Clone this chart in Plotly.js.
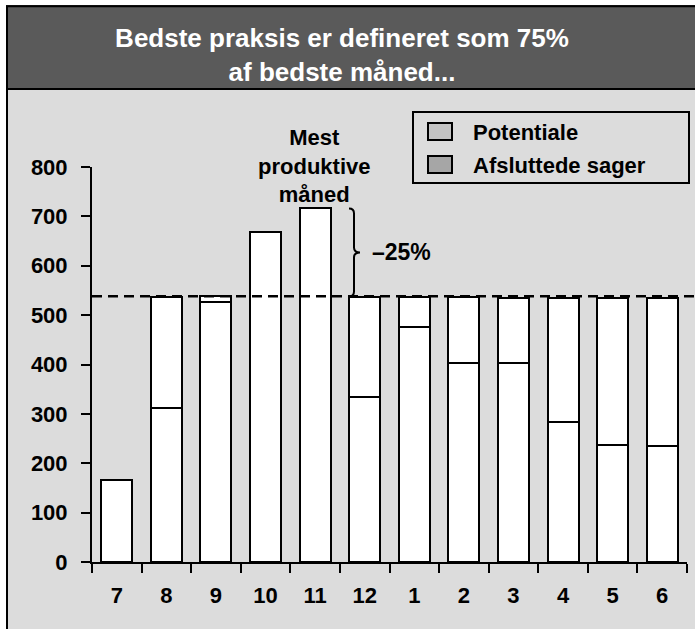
<!DOCTYPE html>
<html>
<head>
<meta charset="utf-8">
<script src="https://cdn.plot.ly/plotly-3.0.1.min.js"></script>
<style>
html,body{margin:0;padding:0;background:#fff;}
#chart{width:695px;height:629px;}
</style>
</head>
<body>
<div id="chart"></div>
<script>
// Data
const months = ["7","8","9","10","11","12","1","2","3","4","5","6"];
const afsluttede = [166, 311, 527, 669, 716, 334, 476, 404, 403, 283, 236, 235];
const potentiale = [null, 226, 11, null, null, 202, 61, 132, 132, 252, 298, 299];
const bestPractice = 538;   // 75% of best month
const bestMonthValue = 716;
const yTicks = [0, 100, 200, 300, 400, 500, 600, 700, 800];

const FONT = "Liberation Sans, Arial, Helvetica, sans-serif";
const BG = "#dcdcdc";
const DARK = "#5a5a5a";

// helpers: pixel -> paper coords (plot area x 92..687, y 167..562.5)
const px = p => (p - 92) / 595;
const py = p => (562.5 - p) / 395.5;

const traces = [
  {
    type: "bar", name: "Afsluttede sager", x: months, y: afsluttede,
    marker: {color: "#ffffff", line: {color: "#000", width: 2}},
    showlegend: false, hoverinfo: "skip"
  },
  {
    type: "bar", name: "Potentiale", x: months, y: potentiale,
    marker: {color: "#ffffff", line: {color: "#000", width: 2}},
    showlegend: false, hoverinfo: "skip"
  }
];

const xs = px(349), xv = px(354), xt = px(360);
const yTop = bestMonthValue, yBot = bestPractice, yMid = (bestMonthValue + bestPractice) / 2;
const a = 10;
const bracePath = `M ${xs},${yTop} Q ${xv},${yTop} ${xv},${yTop - a} L ${xv},${yMid + a} Q ${xv},${yMid} ${xt},${yMid} Q ${xv},${yMid} ${xv},${yMid - a} L ${xv},${yBot + a} Q ${xv},${yBot} ${xs},${yBot}`;

const layout = {
  width: 695, height: 629,
  margin: {l: 92, r: 8, t: 167, b: 66.5},
  paper_bgcolor: "#ffffff",
  plot_bgcolor: "rgba(0,0,0,0)",
  barmode: "stack",
  bargap: 0.375,
  font: {family: FONT, color: "#000"},
  title: {
    text: "Bedste praksis er defineret som 75%<br>af bedste måned...",
    font: {family: FONT, size: 26, color: "#ffffff", weight: "bold"},
    x: 342 / 695, xanchor: "center", xref: "container",
    y: 1 - 47 / 629, yanchor: "middle", yref: "container"
  },
  xaxis: {
    type: "category", showline: true, linecolor: "#000", linewidth: 2,
    ticks: "outside", tickson: "boundaries", ticklen: 9, tickwidth: 2, tickcolor: "#000",
    ticklabelstandoff: 13,
    tickfont: {family: FONT, size: 22, weight: "bold", color: "#000"},
    showgrid: false, zeroline: false, fixedrange: true
  },
  yaxis: {
    range: [0, 800], tickvals: yTicks, ticktext: yTicks.map(String),
    showline: true, linecolor: "#000", linewidth: 2,
    ticks: "outside", ticklen: 9, tickwidth: 2, tickcolor: "#000",
    ticklabelstandoff: 9,
    tickfont: {family: FONT, size: 22, weight: "bold", color: "#000"},
    showgrid: false, zeroline: false, fixedrange: true
  },
  shapes: [
    // light background frame
    {type: "rect", xref: "paper", yref: "paper", layer: "below",
     x0: px(7), x1: px(720), y0: py(660), y1: py(6),
     fillcolor: BG, line: {color: "#000", width: 2}},
    // title bar
    {type: "rect", xref: "paper", yref: "paper", layer: "below",
     x0: px(7), x1: px(720), y0: py(89), y1: py(6),
     fillcolor: DARK, line: {color: "#000", width: 2}},
    // legend box
    {type: "rect", xref: "paper", yref: "paper", layer: "above",
     x0: px(413), x1: px(689), y0: py(183), y1: py(112),
     fillcolor: BG, line: {color: "#000", width: 2}},
    {type: "rect", xref: "paper", yref: "paper", layer: "above",
     x0: px(428), x1: px(452), y0: py(140), y1: py(123),
     fillcolor: "#c4c4c4", line: {color: "#000", width: 2}},
    {type: "rect", xref: "paper", yref: "paper", layer: "above",
     x0: px(428), x1: px(452), y0: py(173), y1: py(156),
     fillcolor: "#a6a6a6", line: {color: "#000", width: 2}},
    // best practice dashed line
    {type: "line", xref: "paper", yref: "y", layer: "above",
     x0: 0, x1: px(700), y0: bestPractice, y1: bestPractice,
     line: {color: "#000", width: 2.5, dash: "10px,6px"}},
    // brace
    {type: "path", xref: "paper", yref: "y", layer: "above",
     path: bracePath, line: {color: "#000", width: 2}}
  ],
  annotations: [
    {xref: "paper", yref: "paper", x: px(471), y: py(132), xanchor: "left", yanchor: "middle",
     text: "Potentiale", showarrow: false,
     font: {family: FONT, size: 22, weight: "bold", color: "#000"}},
    {xref: "paper", yref: "paper", x: px(471), y: py(165), xanchor: "left", yanchor: "middle",
     text: "Afsluttede sager", showarrow: false,
     font: {family: FONT, size: 22, weight: "bold", color: "#000"}},
    {xref: "paper", yref: "paper", x: px(314), y: py(166), xanchor: "center", yanchor: "middle",
     text: "Mest<br>produktive<br>måned", showarrow: false, align: "center",
     font: {family: FONT, size: 22, weight: "bold", color: "#000"}},
    {xref: "paper", yref: "y", x: px(370), y: yMid, xanchor: "left", yanchor: "middle",
     text: "–25%", showarrow: false,
     font: {family: FONT, size: 23, weight: "bold", color: "#000"}}
  ]
};

Plotly.newPlot("chart", traces, layout, {displayModeBar: false, staticPlot: true});
</script>
</body>
</html>
